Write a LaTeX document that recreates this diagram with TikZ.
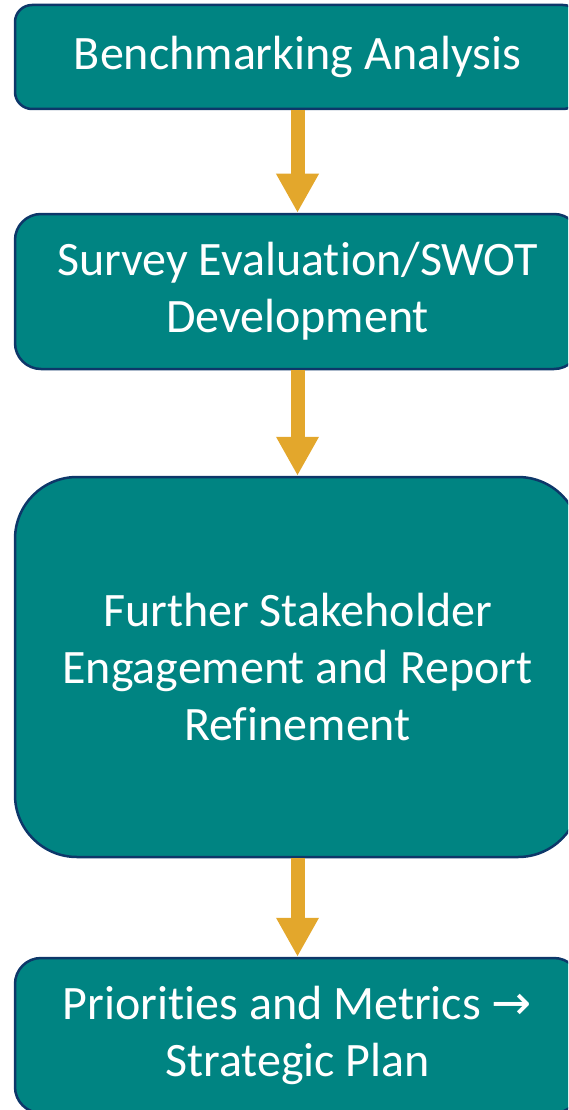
\documentclass[tikz,border=0pt]{standalone}
\usepackage{fontspec}
\setmainfont[Ligatures=NoCommon]{Carlito}
\newfontfamily\arrowfont{DejaVu Sans}
\usetikzlibrary{arrows.meta}

\definecolor{boxteal}{RGB}{0,132,130}
\definecolor{boxline}{RGB}{13,55,105}
\definecolor{flowgold}{RGB}{227,167,44}

\begin{document}
\begin{tikzpicture}
  [x=1pt,y=-1pt,every node/.style={draw=boxline,line width=2.5pt,fill=boxteal,text=white,align=center,
    minimum width=565pt,inner sep=0pt,font=\fontsize{48}{57}\selectfont}]
  \useasboundingbox (0,0) rectangle (568,1110);
  \clip (0,0) rectangle (568,1110);

  \node (n1) at (297.5,57) [minimum height=104pt,rounded corners=17pt] {Benchmarking Analysis};
  \node (n2) at (297.5,291.5) [minimum height=155pt,rounded corners=26pt] {Survey Evaluation/SWOT\\Development};
  \node (n3) at (297.5,667) [minimum height=380pt,rounded corners=62pt] {Further Stakeholder\\Engagement and Report\\Refinement};
  \node (n4) at (297.5,1035.5) [minimum height=155pt,rounded corners=26pt] {Priorities and Metrics {\arrowfont →}\\Strategic Plan};

  \foreach \from/\to in {n1/n2, n2/n3, n3/n4}
    \draw [flowgold,line width=14pt,-{Triangle[width=40pt,length=39pt]}] (\from) -- (\to);

\end{tikzpicture}
\end{document}
